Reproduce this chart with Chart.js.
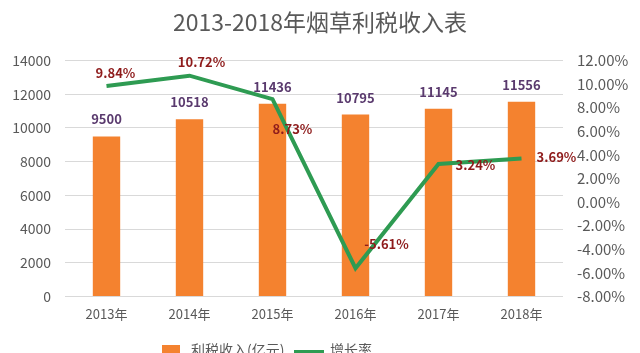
<!DOCTYPE html>
<html>
<head>
    <title>烟草利税收入</title>
    <script src="https://cdn.jsdelivr.net/npm/chart.js"></script>
    <style>
        html, body { margin: 0; padding: 0; background: #fff; overflow: hidden; }
        .wrap { width: 640px; height: 353px; position: relative; }
    </style>
</head>
<body>
    <div class="wrap"><canvas id="taxChart" width="640" height="353"></canvas></div>

    <script>
        const years = ['2013年', '2014年', '2015年', '2016年', '2017年', '2018年'];
        const revenue = [9500, 10518, 11436, 10795, 11145, 11556];
        const growth = [9.84, 10.72, 8.73, -5.61, 3.24, 3.69];
        // label offsets for the growth values
        const growthOffsets = [[9, -13], [12, -14], [20, 30], [31, -24], [37, 1], [35, -2]];

        const FONT = '"Noto Sans CJK SC", "Noto Sans", sans-serif';

        const labelPlugin = {
            id: 'valueLabels',
            afterDatasetsDraw(chart) {
                const ctx = chart.ctx;
                ctx.save();
                ctx.textAlign = 'center';
                ctx.textBaseline = 'middle';
                ctx.font = 'bold 13px ' + FONT;
                ctx.fillStyle = '#5a3a6e';
                chart.getDatasetMeta(1).data.forEach((bar, i) => {
                    ctx.fillText(revenue[i], bar.x, bar.y - 17);
                });
                ctx.fillStyle = '#8e1b1b';
                chart.getDatasetMeta(0).data.forEach((pt, i) => {
                    const o = growthOffsets[i];
                    ctx.fillText(growth[i].toFixed(2) + '%', pt.x + o[0], pt.y + o[1]);
                });
                ctx.restore();
            }
        };

        const legendPlugin = {
            id: 'bottomLegend',
            afterDraw(chart) {
                const ctx = chart.ctx;
                ctx.save();
                ctx.font = '14px ' + FONT;
                ctx.textBaseline = 'middle';
                ctx.fillStyle = '#f4822f';
                ctx.fillRect(162, 345, 18, 14);
                ctx.fillStyle = '#595959';
                ctx.fillText('利税收入(亿元)', 191, 350);
                ctx.strokeStyle = '#2e9b52';
                ctx.lineWidth = 4;
                ctx.beginPath();
                ctx.moveTo(294, 352);
                ctx.lineTo(324, 352);
                ctx.stroke();
                ctx.fillText('增长率', 330, 350);
                ctx.restore();
            }
        };

        const ctx = document.getElementById('taxChart').getContext('2d');
        new Chart(ctx, {
            data: {
                labels: years,
                datasets: [{
                    type: 'line',
                    label: '增长率',
                    data: growth,
                    yAxisID: 'y1',
                    borderColor: '#2e9b52',
                    borderWidth: 4,
                    pointRadius: 0,
                    tension: 0,
                    order: 0
                }, {
                    type: 'bar',
                    label: '利税收入(亿元)',
                    data: revenue,
                    yAxisID: 'y',
                    backgroundColor: '#f4822f',
                    barPercentage: 0.33,
                    categoryPercentage: 1,
                    order: 1
                }]
            },
            options: {
                responsive: false,
                animation: false,
                layout: { padding: { top: 0, bottom: 29, left: 0, right: 0 } },
                plugins: {
                    legend: { display: false },
                    tooltip: { enabled: false },
                    title: {
                        display: true,
                        text: '2013-2018年烟草利税收入表',
                        color: '#595959',
                        font: { family: FONT, size: 23, weight: 'normal' },
                        padding: { top: 8, bottom: 25 }
                    }
                },
                scales: {
                    x: {
                        grid: { display: false },
                        border: { display: false },
                        ticks: { color: '#595959', font: { family: FONT, size: 13 }, padding: 2 }
                    },
                    y: {
                        position: 'left',
                        min: 0,
                        max: 14000,
                        ticks: {
                            stepSize: 2000,
                            color: '#595959',
                            font: { family: FONT, size: 14 },
                            padding: 14,
                            callback: v => String(v)
                        },
                        grid: { color: '#d9d9d9', drawTicks: false },
                        border: { display: false },
                        afterFit(scale) { scale.width = 65; }
                    },
                    y1: {
                        position: 'right',
                        min: -8,
                        max: 12,
                        ticks: {
                            stepSize: 2,
                            color: '#595959',
                            font: { family: FONT, size: 15 },
                            padding: 14,
                            callback: v => v.toFixed(2) + '%'
                        },
                        grid: { drawOnChartArea: false, drawTicks: false },
                        border: { display: false },
                        afterFit(scale) { scale.width = 77; }
                    }
                }
            },
            plugins: [labelPlugin, legendPlugin]
        });
    </script>
</body>
</html>
